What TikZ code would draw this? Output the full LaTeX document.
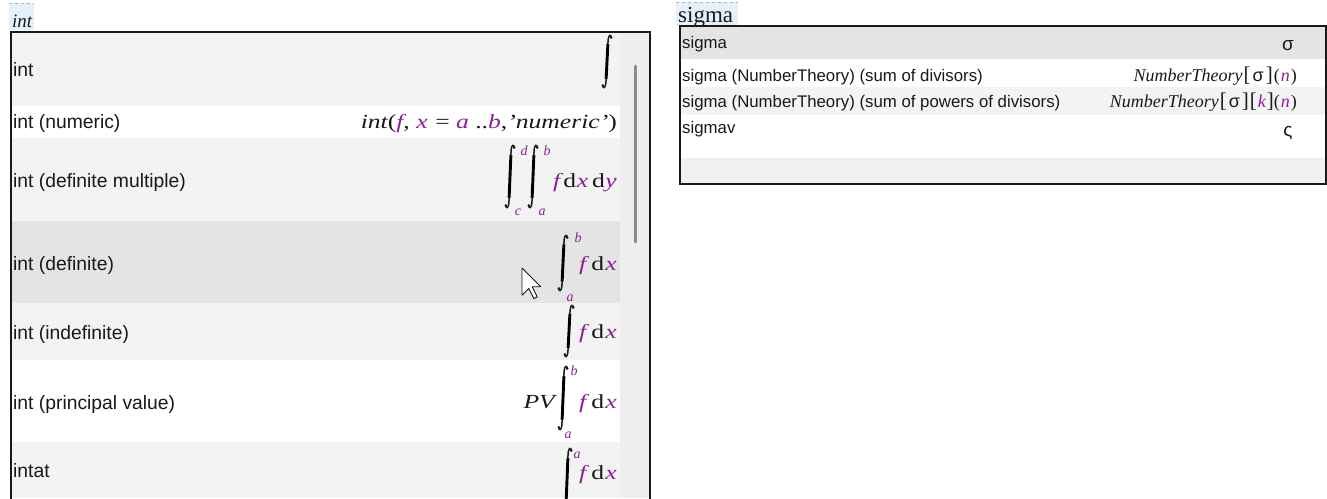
\documentclass[tikz,border=0pt]{standalone}
\usepackage{fontspec}
\setmainfont{Liberation Serif}
\newfontfamily\uif{Liberation Sans}
\usetikzlibrary{calc}
\definecolor{mc}{RGB}{140,30,150}
\definecolor{rowA}{RGB}{243,243,243}
\definecolor{rowH}{RGB}{228,228,228}
\definecolor{rowE}{RGB}{240,240,240}
\definecolor{scrl}{RGB}{238,238,238}
\definecolor{thumb}{RGB}{140,140,140}
\definecolor{ttlbg}{RGB}{230,240,250}
\definecolor{ink}{RGB}{25,25,25}
\newcommand\mx[1]{\scalebox{1.28}[1]{#1}}
\newcommand\pu[1]{\textcolor{mc}{\itshape #1}}
\newcommand\fdx{\mx{\pu{f}\hspace{4pt}d\hspace{1pt}\pu{x}}}
\newcommand\intsign[3]{%
  \draw[intline] ({#1+4.4},{#2+2.8}) .. controls ({#1+4.2},{#2-0.8}) and ({#1+1.5},{#2-0.6}) .. ({#1+1.1},{#2+5})
     -- ({#1-1.1},{#3-5}) .. controls ({#1-1.5},{#3+0.6}) and ({#1-4.2},{#3+0.8}) .. ({#1-4.4},{#3-2.8});
  \fill[ink] ({#1+4.2},{#2+2.6}) circle (1.4);
  \fill[ink] ({#1-4.2},{#3-2.6}) circle (1.4);
  \coordinate (it) at ({#1+1.1},{#2+5});
  \coordinate (ib) at ({#1-1.1},{#3-5});
  \draw[line width=2.9pt] ($(it)!0.1!(ib)$) -- ($(it)!0.9!(ib)$);
}
\begin{document}
\begin{tikzpicture}[x=1pt,y=-1pt,
  intline/.style={line width=1.5pt, ink},
  lab/.style={anchor=base west, inner sep=0, text=ink, font=\uif\fontsize{19.3}{20}\selectfont},
  rlab/.style={anchor=base west, inner sep=0, text=ink, font=\uif\fontsize{16.8}{18}\selectfont},
  mth/.style={inner sep=0, text=ink, font=\fontsize{20}{20}\selectfont, anchor=base east},
  rmth/.style={inner sep=0, text=ink, font=\fontsize{18}{18}\selectfont, anchor=base east},
  lim/.style={inner sep=0, text=mc, font=\fontsize{14}{14}\selectfont\itshape},
  ttl/.style={anchor=base west, inner sep=0, text=ink},
  frame/.style={line width=1.5pt, draw=ink}]
\useasboundingbox (0,0) rectangle (1327,498);
\fill[white] (0,0) rectangle (1327,498);

% ---------- left panel ----------
\fill[ttlbg] (9,3) rectangle (34,30);
\draw[gray!60, dashed, line width=0.6pt] (9,3.5) -- (34,3.5);
\node[ttl, font=\fontsize{19}{19}\selectfont\itshape] (tint) at (12,27) {int};

\fill[rowA]  (11,32)  rectangle (620,106);
\fill[white] (11,106) rectangle (620,138);
\fill[rowA]  (11,138) rectangle (620,221);
\fill[rowH]  (11,221) rectangle (620,303);
\fill[rowA]  (11,303) rectangle (620,360);
\fill[white] (11,360) rectangle (620,442);
\fill[rowA]  (11,442) rectangle (620,498);
\fill[scrl] (620,32) rectangle (650,498);
\draw[thumb, line width=3pt, line cap=round] (635,66) -- (635,242);
\draw[frame] (11,499) -- (11,32) -- (650,32) -- (650,499);

\node[lab] (l1) at (13,76)  {int};
\node[lab] (l2) at (13,128) {int (numeric)};
\node[lab] (l3) at (13,187) {int (definite multiple)};
\node[lab] (l4) at (13,270) {int (definite)};
\node[lab] (l5) at (13,339) {int (indefinite)};
\node[lab] (l6) at (13,409) {int (principal value)};
\node[lab] (l7) at (13,477) {intat};

% row 1
\intsign{607}{35}{88}
% row 2
\node[mth] (m2) at (617,128) {\mx{{\itshape int}(\pu{f}, \pu{x}\hspace{1pt} = \pu{a} ..\pu{b},{\itshape 'numeric'})}};
% row 3
\intsign{510}{145}{208}
\intsign{533}{145}{208}
\node[lim] (d3) at (524,151) {d};
\node[lim] (c3) at (518,212) {c};
\node[lim] (b3) at (547,151) {b};
\node[lim] (a3) at (542,212) {a};
\node[mth] (m3) at (617,187) {\mx{\pu{f}\hspace{2.5pt}d\hspace{0.5pt}\pu{x}\hspace{3pt}d\hspace{0.5pt}\pu{y}}};
% row 4
\intsign{563}{235}{291}
\node[lim] (b4) at (578,238) {b};
\node[lim] (a4) at (570,298) {a};
\node[mth] (m4) at (617,270) {\fdx};
% cursor
\draw[fill=white, line width=0.9pt, line join=round, draw=ink] (522,268) -- (522,295.2) -- (528.8,288.4) -- (533.9,298.6) -- (537.3,296.9) -- (532.2,286.7) -- (540.7,286.7) -- cycle;
% row 5
\intsign{569}{305}{357}
\node[mth] (m5) at (617,338) {\fdx};
% row 6
\node[mth] (pv) at (555,408) {\mx{\itshape PV}};
\intsign{563}{366}{430}
\node[lim] (b6) at (574,371) {b};
\node[lim] (a6) at (568,435) {a};
\node[mth] (m6) at (617,408) {\fdx};
% row 7
\begin{scope}
\clip (11,442) rectangle (620,498);
\intsign{567}{448}{512}
\end{scope}
\node[lim] (a7) at (577,455) {a};
\node[mth] (m7) at (617,479) {\fdx};

% ---------- right panel ----------
\fill[ttlbg] (676,2) rectangle (738,26);
\draw[gray!60, dashed, line width=0.6pt] (676,2.5) -- (738,2.5);
\node[ttl, font=\fontsize{23}{23}\selectfont] (tsig) at (678,22.5) {sigma};

\fill[rowH]  (680,26)  rectangle (1326,59);
\fill[white] (680,59)  rectangle (1326,87);
\fill[rowA]  (680,87)  rectangle (1326,115);
\fill[white] (680,115) rectangle (1326,158);
\fill[rowE]  (680,158) rectangle (1326,184);
\draw[frame] (680,26) rectangle (1326,184);

\node[rlab] (s1) at (682,48)  {sigma};
\node[rlab] (s2) at (682,81)  {sigma (NumberTheory) (sum of divisors)};
\node[rlab] (s3) at (682,107) {sigma (NumberTheory) (sum of powers of divisors)};
\node[rlab] (s4) at (682,133) {sigmav};

\node[inner sep=0, text=ink, font=\uif\fontsize{19}{19}\selectfont] (g1) at (1288,46) {σ};
\node[rmth] (g2) at (1297,81) {{\itshape NumberTheory}\hspace{1pt}{\fontsize{21}{21}\selectfont[}\hspace{2pt}{\uif σ}\hspace{2pt}{\fontsize{21}{21}\selectfont]}\hspace{1pt}(\hspace{1pt}\pu{n}\hspace{1pt})};
\node[rmth] (g3) at (1297,107) {{\itshape NumberTheory}\hspace{1pt}{\fontsize{21}{21}\selectfont[}\hspace{2pt}{\uif σ}\hspace{2pt}{\fontsize{21}{21}\selectfont]}\hspace{1pt}{\fontsize{21}{21}\selectfont[}\hspace{1pt}\pu{k}\hspace{1pt}{\fontsize{21}{21}\selectfont]}(\hspace{1pt}\pu{n}\hspace{1pt})};
\node[inner sep=0, text=ink, font=\uif\fontsize{19}{19}\selectfont] (g4) at (1288,133) {ς};
\end{tikzpicture}
\end{document}
